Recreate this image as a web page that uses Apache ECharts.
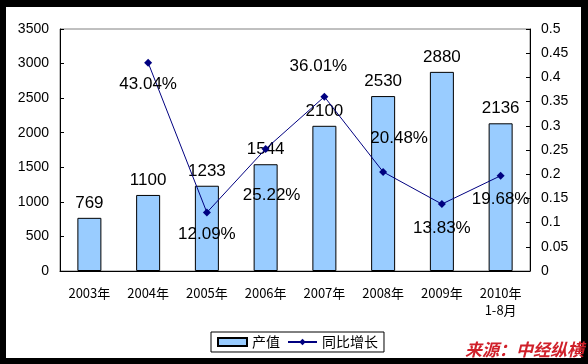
<!DOCTYPE html>
<html>
<head>
<meta charset="utf-8">
<script src="https://cdn.jsdelivr.net/npm/echarts@6/dist/echarts.min.js"></script>
<style>
html,body{margin:0;padding:0;background:#fff;}
#chart{width:588px;height:364px;}
</style>
</head>
<body>
<div id="chart"></div>
<script>
var categories = ['2003年', '2004年', '2005年', '2006年', '2007年', '2008年', '2009年', '2010年\n1-8月'];
var outputValues = [769, 1100, 1233, 1544, 2100, 2530, 2880, 2136];
var growthValues = [null, 0.4304, 0.1209, 0.2522, 0.3601, 0.2048, 0.1383, 0.1968];
var growthLabels = ['', '43.04%', '12.09%', '25.22%', '36.01%', '20.48%', '13.83%', '19.68%'];
var leftTicks = {min: 0, max: 3500, interval: 500};
var rightTicks = {min: 0, max: 0.5, interval: 0.05};
var seriesNames = ['产值', '同比增长'];
var sourceText = '来源：中经纵横';

// label offsets (style only)
var labelOffsets = [[0,0],[0,22],[0,22],[6,46],[-6,-30],[16,-34],[0,24],[0,24]];

var lineData = growthValues.map(function (v, i) {
  if (v === null) return '-';
  return {
    value: v,
    label: {show: true, position: 'inside', offset: labelOffsets[i], formatter: growthLabels[i]}
  };
});

var chart = echarts.init(document.getElementById('chart'));
var fontLatin = 'Liberation Sans, Arial, sans-serif';
chart.setOption({
  animation: false,
  textStyle: {fontFamily: fontLatin},
  grid: {left: 60, right: 58, top: 29, bottom: 93, show: true, borderColor: '#808080', borderWidth: 1},
  legend: {
    left: 211, top: 332,
    padding: [3, 6],
    itemGap: 7,
    itemWidth: 29, itemHeight: 8,
    borderColor: '#000', borderWidth: 1,
    textStyle: {fontSize: 14, color: '#000', fontFamily: 'Noto Sans CJK SC'},
    data: [
      {name: seriesNames[0], icon: 'rect'},
      {name: seriesNames[1]}
    ]
  },
  xAxis: {
    type: 'category',
    data: categories,
    axisLine: {lineStyle: {color: '#000', width: 1}},
    axisTick: {inside: true, length: 4, lineStyle: {color: '#000'}},
    axisLabel: {interval: 0, margin: 14, fontSize: 13, lineHeight: 17, color: '#000', fontFamily: 'Noto Sans CJK SC'}
  },
  yAxis: [
    {
      type: 'value', min: leftTicks.min, max: leftTicks.max, interval: leftTicks.interval,
      axisLine: {show: true, lineStyle: {color: '#000'}},
      axisTick: {show: true, inside: true, length: 4, lineStyle: {color: '#000'}},
      axisLabel: {fontSize: 14, color: '#000', margin: 11, formatter: function (v) { return String(v); }},
      splitLine: {show: false}
    },
    {
      type: 'value', min: rightTicks.min, max: rightTicks.max, interval: rightTicks.interval,
      position: 'right',
      axisLine: {show: true, lineStyle: {color: '#000'}},
      axisTick: {show: true, inside: true, length: 4, lineStyle: {color: '#000'}},
      axisLabel: {fontSize: 14, color: '#000', margin: 11, formatter: function (v) { return String(parseFloat(v.toFixed(2))); }},
      splitLine: {show: false}
    }
  ],
  series: [
    {
      name: seriesNames[0],
      type: 'bar',
      data: outputValues,
      barWidth: 24,
      itemStyle: {color: '#99CCFF', borderColor: '#000', borderWidth: 1},
      label: {show: true, position: 'top', distance: 6, fontSize: 17, color: '#000'}
    },
    {
      name: seriesNames[1],
      type: 'line',
      yAxisIndex: 1,
      data: lineData,
      symbol: 'diamond',
      symbolSize: 8,
      connectNulls: false,
      lineStyle: {color: '#000080', width: 1},
      itemStyle: {color: '#000080'},
      label: {fontSize: 17, color: '#000'},
      z: 5
    }
  ],
  graphic: [
    {type: 'rect', left: 0, top: 0, shape: {width: 6, height: 364}, style: {fill: '#000'}, z: 100},
    {type: 'rect', left: 0, top: 0, shape: {width: 588, height: 7}, style: {fill: '#000'}, z: 100},
    {type: 'rect', left: 581, top: 0, shape: {width: 7, height: 364}, style: {fill: '#000'}, z: 100},
    {type: 'rect', left: 0, top: 358, shape: {width: 588, height: 6}, style: {fill: '#000'}, z: 100},
    {type: 'text', left: 465, top: 341, z: 101,
     style: {text: sourceText, fill: '#D0202A', font: 'italic bold 17px "Noto Sans CJK SC"'}}
  ]
});
</script>
</body>
</html>
